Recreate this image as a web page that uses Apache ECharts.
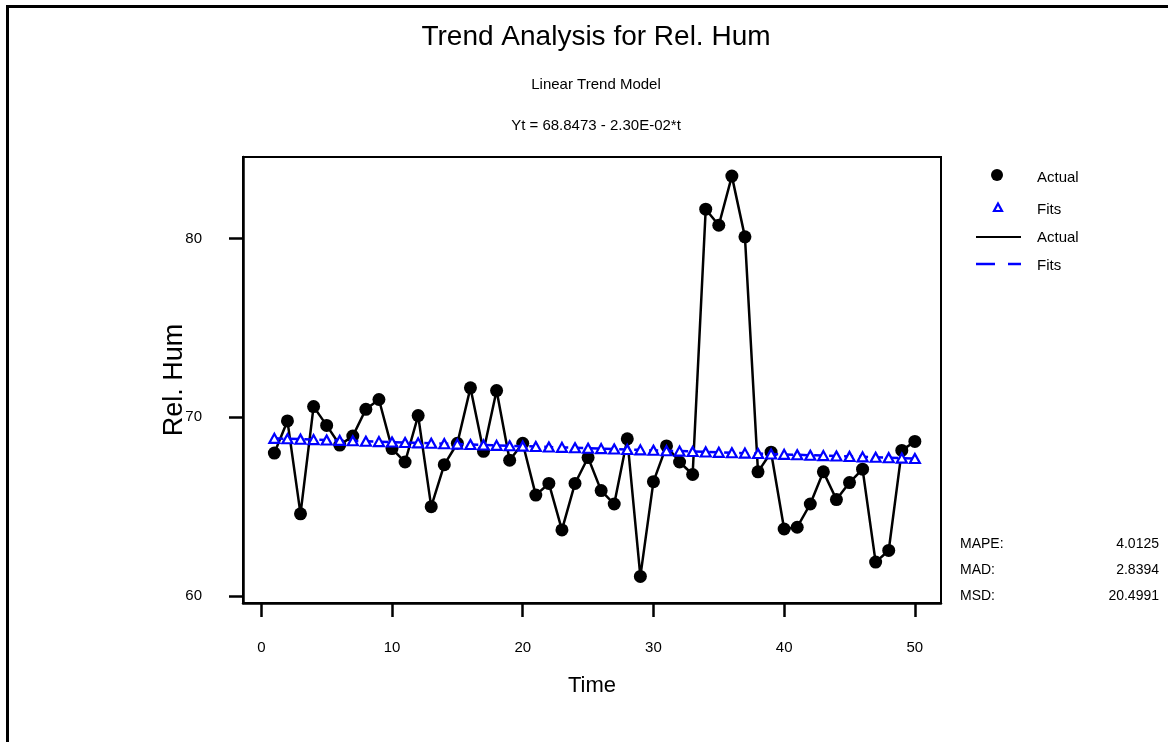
<!DOCTYPE html>
<html>
<head>
<meta charset="utf-8">
<script src="https://cdn.jsdelivr.net/npm/echarts@6/dist/echarts.min.js"></script>
<style>
html,body{margin:0;padding:0;background:#fff;}
#chart{width:1168px;height:742px;}
</style>
</head>
<body>
<div id="chart"></div>
<script>
var times = [1,2,3,4,5,6,7,8,9,10,11,12,13,14,15,16,17,18,19,20,21,22,23,24,25,26,27,28,29,30,31,32,33,34,35,36,37,38,39,40,41,42,43,44,45,46,47,48,49,50];
var actual = [68.0,69.8,64.6,70.6,69.55,68.45,68.95,70.45,71.0,68.25,67.5,70.1,65.0,67.35,68.55,71.65,68.1,71.5,67.6,68.55,65.65,66.3,63.7,66.3,67.75,65.9,65.15,68.8,61.1,66.4,68.4,67.5,66.8,81.65,80.75,83.5,80.1,66.95,68.05,63.75,63.85,65.15,66.95,65.4,66.35,67.1,61.9,62.55,68.15,68.65];
var fits = [68.824,68.801,68.778,68.755,68.732,68.709,68.686,68.663,68.640,68.617,68.594,68.571,68.548,68.525,68.502,68.479,68.456,68.433,68.410,68.387,68.364,68.341,68.318,68.295,68.272,68.249,68.226,68.203,68.180,68.157,68.134,68.111,68.088,68.065,68.042,68.019,67.996,67.973,67.950,67.927,67.904,67.881,67.858,67.835,67.812,67.789,67.766,67.743,67.720,67.697];
var xTicks = [0,10,20,30,40,50];
var yTicks = [60,70,80];
var titleText = "Trend Analysis for Rel. Hum";
var subTitle1 = "Linear Trend Model";
var subTitle2 = "Yt = 68.8473 - 2.30E-02*t";
var statNames = ["MAPE:","MAD:","MSD:"];
var statValues = ["4.0125","2.8394","20.4991"];

var FONT = "'Liberation Sans', Arial, sans-serif";
var actualData = times.map(function(t,i){return [t, actual[i]];});
var fitsData = times.map(function(t,i){return [t, fits[i]];});

var chart = echarts.init(document.getElementById('chart'), null, {renderer:'canvas'});

var graphics = [
  {type:'rect', shape:{x:7.5,y:6.5,width:1300,height:900}, style:{fill:'none',stroke:'#000',lineWidth:3}, silent:true},
  // legend
  {type:'circle', shape:{cx:997,cy:175,r:6}, style:{fill:'#000'}},
  {type:'text', style:{text:'Actual', x:1037, y:178, fill:'#000', font:'15px '+FONT, textVerticalAlign:'middle'}},
  {type:'polygon', shape:{points:[[998,203.5],[994,211],[1002,211]]}, style:{fill:'#fff',stroke:'#0000ff',lineWidth:2.2}},
  {type:'text', style:{text:'Fits', x:1037, y:210, fill:'#000', font:'15px '+FONT, textVerticalAlign:'middle'}},
  {type:'line', shape:{x1:976,y1:237,x2:1021,y2:237}, style:{stroke:'#000',lineWidth:2.2}},
  {type:'text', style:{text:'Actual', x:1037, y:238, fill:'#000', font:'15px '+FONT, textVerticalAlign:'middle'}},
  {type:'line', shape:{x1:976,y1:264,x2:995,y2:264}, style:{stroke:'#0000ff',lineWidth:2.5}},
  {type:'line', shape:{x1:1008,y1:264,x2:1021,y2:264}, style:{stroke:'#0000ff',lineWidth:2.5}},
  {type:'text', style:{text:'Fits', x:1037, y:266, fill:'#000', font:'15px '+FONT, textVerticalAlign:'middle'}}
];
var statY = [544,570,596];
for (var i=0;i<statNames.length;i++){
  graphics.push({type:'text', style:{text:statNames[i], x:960, y:statY[i], fill:'#000', font:'14px '+FONT, textVerticalAlign:'middle'}});
  graphics.push({type:'text', style:{text:statValues[i], x:1159, y:statY[i], fill:'#000', font:'14px '+FONT, textAlign:'right', textVerticalAlign:'middle'}});
}

var option = {
  backgroundColor:'#fff',
  animation:false,
  title:[
    {text:titleText, left:591, top:18, textAlign:'center', textStyle:{fontFamily:FONT, fontSize:28, fontWeight:'normal', color:'#000'}},
    {text:subTitle1, left:591, top:72, textAlign:'center', textStyle:{fontFamily:FONT, fontSize:15, fontWeight:'normal', color:'#000'}},
    {text:subTitle2, left:591, top:113, textAlign:'center', textStyle:{fontFamily:FONT, fontSize:15, fontWeight:'normal', color:'#000'}}
  ],
  grid:{left:243, top:157, right:227, bottom:139, show:true, borderColor:'#000', borderWidth:2, backgroundColor:'transparent'},
  xAxis:{
    type:'value', min:-1.4, max:52,
    name:'Time', nameLocation:'middle', nameGap:72, nameMoveOverlap:false,
    nameTextStyle:{fontFamily:FONT, fontSize:22, color:'#000'},
    axisLine:{show:true, onZero:false, lineStyle:{color:'#000', width:2.5}},
    axisTick:{show:true, inside:false, length:14, customValues:xTicks, lineStyle:{color:'#000', width:2.5}},
    axisLabel:{customValues:xTicks, margin:37, fontFamily:FONT, fontSize:15, color:'#000'},
    splitLine:{show:false}
  },
  yAxis:{
    type:'value', min:59.61, max:84.57,
    name:'Rel. Hum', nameLocation:'middle', nameGap:55, nameRotate:90, nameMoveOverlap:false,
    nameTextStyle:{fontFamily:FONT, fontSize:27, color:'#000'},
    axisLine:{show:true, onZero:false, lineStyle:{color:'#000', width:2.5}},
    axisTick:{show:true, inside:false, length:14, customValues:yTicks, lineStyle:{color:'#000', width:2.5}},
    axisLabel:{customValues:yTicks, margin:41, fontFamily:FONT, fontSize:15, color:'#000'},
    splitLine:{show:false}
  },
  series:[
    {type:'line', name:'Actual', data:actualData, symbol:'circle', symbolSize:13, showAllSymbol:true,
     itemStyle:{color:'#000'}, lineStyle:{color:'#000', width:2.5}, z:2},
    {type:'line', name:'Fits', data:fitsData, symbol:'triangle', symbolSize:[10,9], showAllSymbol:true,
     itemStyle:{color:'#fff', borderColor:'#0000ff', borderWidth:2.2, opacity:1}, lineStyle:{color:'#0000ff', width:2.5, type:[9,6]}, z:3}
  ],
  graphic:graphics
};
chart.setOption(option);
</script>
</body>
</html>
